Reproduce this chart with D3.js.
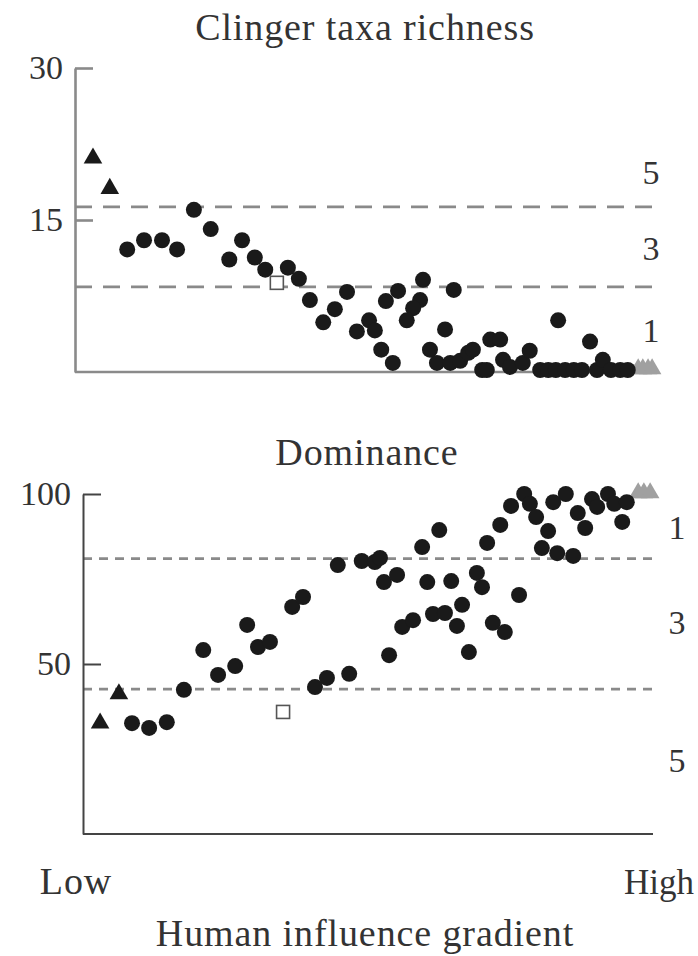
<!DOCTYPE html>
<html>
<head>
<meta charset="utf-8">
<script src="https://cdn.jsdelivr.net/npm/d3@7"></script>
<style>
  html, body { margin: 0; padding: 0; background: #fff; }
  svg { display: block; }
  text { font-family: "Liberation Serif", "DejaVu Serif", serif; fill: #333; }
  .word { font-size: 38px; letter-spacing: 0.9px; }
</style>
</head>
<body>
<div id="chart"></div>
<script>
// gradient position 0 (low) .. 100 (high) for each site

// clinger taxa richness
const clingerSiteX = [9.0, 11.9, 15.0, 17.6, 20.5, 23.4, 26.6, 28.8, 31.0, 32.8, 36.7, 38.6, 40.5, 42.8, 44.8, 46.9,
  48.6, 50.7, 51.7, 52.8, 54.8, 53.6, 55.7, 60.0, 59.5, 58.3, 57.2, 65.3, 63.8, 61.2, 62.4, 64.7, 66.4, 67.8, 68.6,
  70.2, 71.0, 71.6, 73.3, 73.8, 75.0, 77.2, 78.4, 80.2, 81.6, 82.9, 83.3, 84.5, 86.0, 87.4, 88.8, 90.0, 91.0, 92.4,
  94.0, 95.3];
const clingerSiteY = [12.1, 13.0, 13.0, 12.1, 16.0, 14.1, 11.1, 13.0, 11.3, 10.1, 10.3, 9.2, 7.1, 4.9, 6.2, 7.9,
  4.0, 5.1, 4.1, 2.2, 0.9, 7.0, 8.0, 9.1, 7.1, 6.3, 5.1, 8.1, 4.2, 2.2, 0.9, 0.9, 1.1, 1.9, 2.2,
  0.2, 0.2, 3.2, 3.2, 1.2, 0.5, 0.9, 2.1, 0.2, 0.2, 0.2, 5.1, 0.2, 0.2, 0.2, 3.0, 0.2, 1.2, 0.2,
  0.2, 0.2];
const clingerRefX = [3.1, 6.0];
const clingerRefY = [21.1, 18.1];
const clingerTestX = [34.8];
const clingerTestY = [8.8];
const clingerHighX = [97.1, 97.9, 98.8, 99.5];
const clingerHighY = [0.2, 0.2, 0.2, 0.2];
const clingerTicks = [15, 30];
const clingerThresholds = [16.3, 8.4];
const clingerScores = ["5", "3", "1"];
const clingerScoreY = [19.7, 12.2, 4.1];

// dominance (%)
const domSiteX = [8.6, 11.6, 14.7, 17.7, 21.1, 23.7, 26.7, 28.8, 30.7, 32.8, 36.7, 38.6, 40.7, 42.8, 44.7, 46.7,
  48.9, 51.2, 52.1, 52.8, 55.1, 53.7, 56.0, 57.9, 59.5, 60.4, 61.4, 62.5, 63.5, 64.6, 65.6, 66.5, 67.7, 69.1, 70.0,
  70.9, 71.9, 73.2, 74.0, 75.1, 76.5, 77.4, 78.4, 79.5, 80.5, 81.6, 82.5, 83.2, 84.7, 86.0, 86.8, 88.1, 89.3, 90.2,
  92.1, 93.2, 94.6, 95.4];
const domSiteY = [32.6, 31.2, 32.9, 42.4, 54.1, 46.8, 49.4, 61.5, 55.0, 56.5, 66.8, 69.7, 43.2, 45.9, 79.1, 47.1,
  80.3, 80.0, 81.2, 74.1, 76.2, 52.6, 60.9, 62.9, 84.4, 74.1, 64.7, 89.4, 65.0, 74.4, 61.2, 67.4, 53.5, 76.8, 72.6,
  85.6, 62.1, 90.9, 59.4, 96.5, 70.3, 100, 97.1, 93.2, 84.1, 89.1, 97.6, 82.6, 100, 81.8, 94.4, 90.0, 98.5, 96.2,
  100, 97.1, 91.8, 97.6];
const domRefX = [3.0, 6.3];
const domRefY = [32.6, 41.2];
const domTestX = [35.1];
const domTestY = [35.9];
const domHighX = [97.4, 98.4, 99.5];
const domHighY = [100, 100, 100];
const domTicks = [50, 100];
const domThresholds = [81, 42.6];
const domScores = ["1", "3", "5"];
const domScoreY = [90.3, 62.4, 21.8];

const W = 698, H = 956;

const svg = d3.select("#chart")
  .append("svg")
  .attr("width", W)
  .attr("height", H)
  .attr("viewBox", `0 0 ${W} ${H}`);

function drawPanel(p) {
  const x = d3.scaleLinear().domain([0, 100]).range([p.left, p.right]);
  const y = d3.scaleLinear().domain(p.yDomain).range([p.bottom, p.top]);
  const g = svg.append("g");

  // title
  g.append("text")
    .attr("class", "word")
    .attr("x", p.titleX)
    .attr("y", p.titleY)
    .attr("text-anchor", "middle")
    .text(p.title);

  // threshold lines
  g.selectAll("line.thr")
    .data(p.thresholds)
    .enter()
    .append("line")
    .attr("class", "thr")
    .attr("x1", p.left)
    .attr("x2", p.right)
    .attr("y1", d => y(d))
    .attr("y2", d => y(d))
    .attr("stroke", "#8a8a8a")
    .attr("stroke-width", 2.6)
    .attr("stroke-dasharray", p.dash);

  // y axis
  g.append("g")
    .attr("transform", `translate(${p.left},0)`)
    .call(d3.axisLeft(y).tickValues(p.ticks).tickSize(-18).tickSizeOuter(0).tickPadding(12).tickFormat(d3.format("d")))
    .call(a => a.select(".domain").attr("stroke", p.axisColor).attr("stroke-width", p.axisWidth))
    .call(a => a.selectAll(".tick line").attr("stroke", p.axisColor).attr("stroke-width", p.axisWidth))
    .call(a => a.selectAll(".tick text")
      .attr("fill", "#333")
      .style("font-family", '"Liberation Serif", serif')
      .style("font-size", "34px"));

  // x axis baseline
  g.append("line")
    .attr("x1", p.left)
    .attr("x2", p.right)
    .attr("y1", y(p.yDomain[0]))
    .attr("y2", y(p.yDomain[0]))
    .attr("stroke", p.axisColor)
    .attr("stroke-width", p.axisWidth);

  // score labels on the right
  g.selectAll("text.score")
    .data(p.scores)
    .enter()
    .append("text")
    .attr("class", "score")
    .attr("x", p.scoreX)
    .attr("y", (d, i) => y(p.scoreY[i]))
    .attr("dy", "0.35em")
    .attr("text-anchor", "middle")
    .style("font-size", "34px")
    .text(d => d);

  const tri = d3.symbol().type(d3.symbolTriangle).size(150);

  // high-end sites (grey triangles)
  g.selectAll("path.high")
    .data(p.highX.map((v, i) => [v, p.highY[i]]))
    .enter()
    .append("path")
    .attr("class", "high")
    .attr("d", tri)
    .attr("transform", d => `translate(${x(d[0])},${y(d[1]) - 1})`)
    .attr("fill", "#a0a0a0");

  // sites
  g.selectAll("circle.site")
    .data(p.siteX.map((v, i) => [v, p.siteY[i]]))
    .enter()
    .append("circle")
    .attr("class", "site")
    .attr("cx", d => x(d[0]))
    .attr("cy", d => y(d[1]))
    .attr("r", 8)
    .attr("fill", "#1a1a1a");

  // reference sites
  g.selectAll("path.ref")
    .data(p.refX.map((v, i) => [v, p.refY[i]]))
    .enter()
    .append("path")
    .attr("class", "ref")
    .attr("d", tri)
    .attr("transform", d => `translate(${x(d[0])},${y(d[1])})`)
    .attr("fill", "#1a1a1a");

  // test site (open square)
  g.selectAll("rect.test")
    .data(p.testX.map((v, i) => [v, p.testY[i]]))
    .enter()
    .append("rect")
    .attr("class", "test")
    .attr("x", d => x(d[0]) - 6.5)
    .attr("y", d => y(d[1]) - 6.5)
    .attr("width", 13)
    .attr("height", 13)
    .attr("fill", "#fff")
    .attr("stroke", "#555")
    .attr("stroke-width", 1.6);
}

drawPanel({
  title: "Clinger taxa richness", titleX: 365, titleY: 40,
  left: 75, right: 655, top: 68, bottom: 372, yDomain: [0, 30],
  ticks: clingerTicks, thresholds: clingerThresholds, dash: "17,11",
  axisColor: "#8a8a8a", axisWidth: 2.6,
  scores: clingerScores, scoreY: clingerScoreY, scoreX: 651,
  siteX: clingerSiteX, siteY: clingerSiteY,
  refX: clingerRefX, refY: clingerRefY,
  testX: clingerTestX, testY: clingerTestY,
  highX: clingerHighX, highY: clingerHighY
});

drawPanel({
  title: "Dominance", titleX: 367, titleY: 465,
  left: 83, right: 653, top: 494, bottom: 834, yDomain: [0, 100],
  ticks: domTicks, thresholds: domThresholds, dash: "9,7",
  axisColor: "#444", axisWidth: 2,
  scores: domScores, scoreY: domScoreY, scoreX: 677,
  siteX: domSiteX, siteY: domSiteY,
  refX: domRefX, refY: domRefY,
  testX: domTestX, testY: domTestY,
  highX: domHighX, highY: domHighY
});

// gradient labels
svg.append("text")
  .attr("class", "word")
  .attr("x", 76).attr("y", 894)
  .attr("text-anchor", "middle")
  .text("Low");

svg.append("text")
  .attr("x", 694).attr("y", 894)
  .attr("text-anchor", "end")
  .style("font-size", "35px")
  .text("High");

svg.append("text")
  .attr("class", "word")
  .attr("x", 365).attr("y", 946)
  .attr("text-anchor", "middle")
  .text("Human influence gradient");
</script>
</body>
</html>
